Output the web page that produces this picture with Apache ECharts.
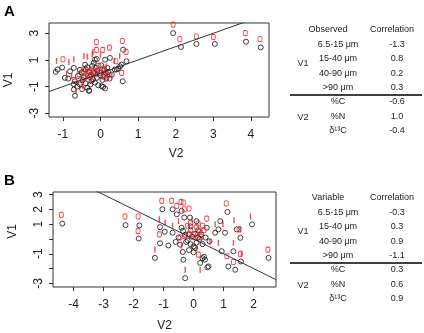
<!DOCTYPE html>
<html>
<head>
<meta charset="utf-8">
<script src="https://cdn.jsdelivr.net/npm/echarts@6/dist/echarts.min.js"></script>
<style>
html, body { margin: 0; padding: 0; background: #fff; }
#main { width: 424px; height: 333px; }
</style>
</head>
<body>
<div id="main"></div>
<script>
// panel A : observed
var blackA = [[-1.19,0.1],[-1.14,0.28],[-1.02,0.43],[-0.95,-0.34],[-0.86,-0.4],[-0.81,0.15],[-0.71,0.4],
  [-0.68,-0.6],[-0.71,-0.82],[-0.71,-1.22],[-0.68,-1.69],[-0.55,-0.84],[-0.49,-1.19],[-0.5,0.07],[-0.47,-0.51],
  [-0.41,0.65],[-0.39,0.28],[-0.35,-1.09],[-0.31,-1.31],[-0.28,-0.27],[-0.27,-0.84],[-0.24,-0.6],[-0.19,0.03],
  [-0.18,0.78],[-0.15,1.02],[-0.1,1.07],[-0.12,0.4],[-0.1,-0.34],[-0.06,-0.9],[-0.02,0.03],[0.0,-0.15],
  [0.03,-0.97],[0.07,-1.02],[0.12,-1.14],[0.14,0.03],[0.16,-0.34],[0.18,0.4],[0.12,1.02],[0.24,-0.4],
  [0.25,1.15],[0.38,0.28],[0.43,0.28],[0.47,0.35],[0.52,0.52],[0.56,0.65],[0.59,-0.6],[0.6,1.77],[0.69,0.9],
  [-0.6,-0.2],[-0.45,-0.3],[-0.3,0.1],[-0.25,-0.1],[-0.2,-0.45],[-0.15,-0.7],[-0.08,0.2],[0.05,-0.5],
  [0.1,0.25],[0.2,0.1],[-0.4,-0.75],[-0.55,0.25],[-0.35,0.45],[0.3,-0.1],[0.08,-0.25],[-0.22,0.55],
  [0.02,0.6],[-0.62,-1.0],[-0.3,-1.3],
  [1.93,3.01],[2.14,1.97],[2.55,2.2],[3.04,2.2],[3.87,2.37],[4.26,1.94]];
var redA = [[-1.0,1.05],[-0.57,-0.07],[-0.53,-0.69],[-0.44,0.3],[-0.11,2.34],[-0.11,1.75],[0.06,1.75],
  [0.24,1.92],[0.58,2.42],[0.68,1.6],[0.41,0.9],[0.56,0.03],
  [-0.42,-0.35],[-0.33,0.05],[-0.28,0.15],[-0.25,-0.15],[-0.2,0.3],[-0.15,0.1],[-0.1,-0.05],[-0.35,-0.2],
  [0.05,0.35],[0.1,0.15],[0.2,-0.15],[-0.45,0.15],[-0.7,-0.5],[-0.05,0.55],[0.15,-0.4],
  [1.93,3.65],[2.11,2.57],[2.55,2.76],[3.0,2.72],[3.85,3.01],[4.24,2.57]];
var barsA = [[-1.17,0.93],[-0.84,0.85],[-0.71,1.05],[-0.44,1.3],[-0.35,1.25],[-0.22,1.42],[-0.2,1.6],
  [0.0,1.4],[0.37,0.95],[0.51,1.3],[-0.47,-1.0],[-0.77,-0.2],[0.05,-0.25],[0.3,-0.2],[-0.25,-0.55],
  [0.15,0.5],[-0.65,-1.3],[-0.9,-0.05]];
var fitA = { slope: 1.0, intercept: 0.0 };

// panel B : variable
var blackB = [[-4.38,1.04],[-2.27,0.94],[-1.81,0.92],[-1.83,0.03],[-1.29,-1.28],[-1.12,0.8],[-1.12,-0.29],
  [-1.04,2.01],[-0.96,0.49],[-0.84,-0.44],[-0.7,0.42],[-0.7,2.01],[-0.56,1.67],[-0.45,-0.38],[-0.4,1.9],
  [-0.4,0.76],[-0.36,-0.88],[-0.34,-1.4],[-0.28,-2.65],[-0.31,1.45],[-0.28,0.28],[-0.2,-0.1],[-0.15,0.3],
  [-0.1,0.85],[-0.12,1.45],[0.0,-0.5],[0.05,-0.6],[0.1,1.2],[0.15,0.1],[0.2,0.0],[0.22,-1.62],[0.3,-1.3],
  [0.35,-1.2],[0.46,-1.92],[0.44,0.76],[0.38,-1.4],[0.5,-1.86],[0.53,-0.15],[0.72,0.42],[0.83,0.65],
  [0.89,1.21],[0.94,-0.83],[1.05,0.42],[1.13,1.83],[1.16,-1.86],[1.33,-0.83],[1.39,-2.08],[1.44,0.65],
  [1.56,0.08],[1.58,-1.52],[1.95,0.99],[2.5,-1.28],
  [-0.05,0.15],[0.05,0.35],[-0.25,-0.2],[0.1,-0.25],[0.25,0.3],[-0.5,0.1],[0.0,-0.9],[-0.15,-0.75],
  [0.3,-0.35],[-0.35,0.55],[0.15,0.6],[-0.6,-0.2],[0.4,0.1],[-0.1,-0.35]];
var redB = [[-4.41,1.63],[-2.29,1.52],[-1.85,1.52],[-1.85,0.53],[-1.06,2.58],[-0.73,2.58],[-0.56,2.24],
  [-0.42,2.51],[-0.31,2.01],[-0.15,2.06],[-1.14,0.31],[1.09,2.4],[2.48,-0.72],[0.44,1.38],[1.33,-1.56],
  [1.56,-1.01],[1.11,-1.17],[1.52,0.65],[0.16,-1.06],[-0.34,2.47],
  [-0.2,0.9],[-0.1,0.6],[0.0,0.3],[0.1,0.8],[0.2,0.5],[0.3,0.9],[-0.3,0.2],[-0.45,0.1],[0.05,0.1],
  [-0.15,0.35],[0.25,0.15],[0.35,0.6],[-0.1,1.1],[0.15,1.05]];
var barsB = [[-1.29,-0.72],[-1.14,1.33],[-0.7,0.9],[-0.28,-2.08],[0.22,-2.08],[0.72,0.99],[0.83,-0.26],
  [1.33,-0.26],[1.35,1.26],[0.98,0.99],[1.56,0.65],[1.9,1.52],[-0.95,1.1],[-0.5,1.2],[-0.05,1.3],
  [0.55,-0.2],[-0.4,-0.45],[0.1,-0.6],[1.6,-1.0]];
var fitB = { slope: -1.0, intercept: 0.0 };

// tables
var varNames = ['6.5-15 μm', '15-40 μm', '40-90 μm', '>90 μm', '%C', '%N', 'δ¹³C'];
var corrA = ['-1.3', '0.8', '0.2', '0.3', '-0.6', '1.0', '-0.4'];
var corrB = ['-0.3', '0.3', '0.9', '-1.1', '0.3', '0.6', '0.9'];

var xTicksA = [-1, 0, 1, 2, 3, 4];
var yTicksA = [-3, -1, 1, 3];
var xTicksB = [-4, -3, -2, -1, 0, 1, 2];
var yTicksB = [-3, -2, -1, 0, 1, 2, 3];
var yLabelsB = [-3, -1, 1, 2, 3];

var myChart = echarts.init(document.getElementById('main'));

var FONT = 'Liberation Sans';
var RED = '#f21d2a';

function fitLine(fit, x0, x1) {
    return [[x0, fit.slope * x0 + fit.intercept], [x1, fit.slope * x1 + fit.intercept]];
}

function xAx(idx, min, max, ticks, shift, gap) {
    return {
        type: 'value', gridIndex: idx, min: min, max: max,
        name: 'V2', nameLocation: 'middle', nameGap: gap,
        nameTextStyle: { fontFamily: FONT, fontSize: 12, color: '#222', padding: [0, 0, 0, shift] },
        axisLine: { show: false, onZero: false },
        axisTick: { show: true, length: 4, lineStyle: { color: '#333' }, customValues: ticks },
        axisLabel: { fontFamily: FONT, fontSize: 12, color: '#222', margin: 12, customValues: ticks },
        splitLine: { show: false }
    };
}
function yAx(idx, min, max, ticks, labels, pad) {
    return {
        type: 'value', gridIndex: idx, min: min, max: max,
        name: 'V1', nameLocation: 'middle', nameGap: 34,
        nameTextStyle: { fontFamily: FONT, fontSize: 12, color: '#222', padding: pad },
        axisLine: { show: false, onZero: false },
        axisTick: { show: true, length: 4, lineStyle: { color: '#333' }, customValues: ticks },
        axisLabel: { fontFamily: FONT, fontSize: 12, color: '#222', margin: 8, rotate: 90, customValues: labels },
        splitLine: { show: false }
    };
}

function pts(idx, data, kind) {
    var s = { type: 'scatter', xAxisIndex: idx, yAxisIndex: idx, data: data, silent: true };
    if (kind === 'black') {
        s.symbol = 'circle'; s.symbolSize = 5;
        s.itemStyle = { color: 'rgba(0,0,0,0)', borderColor: '#111', borderWidth: 1 };
    } else if (kind === 'red') {
        s.symbol = 'roundRect'; s.symbolSize = [4, 5];
        s.itemStyle = { color: 'rgba(0,0,0,0)', borderColor: RED, borderWidth: 1 };
    } else {
        s.symbol = 'rect'; s.symbolSize = [1.4, 6];
        s.itemStyle = { color: RED };
    }
    return s;
}

// table as text
var graphic = [
    { type: 'text', left: 4, top: 4, style: { text: 'A', font: 'bold 15px ' + FONT, fill: '#000' } },
    { type: 'text', left: 4, top: 173, style: { text: 'B', font: 'bold 15px ' + FONT, fill: '#000' } }
];
function addTable(y0, head, vals) {
    var rowY = [44.3, 59, 73.3, 88, 102, 116.7, 131];
    function t(x, y, s) {
        graphic.push({ type: 'text', x: x, y: y + y0,
            style: { text: s, font: '9px ' + FONT, fill: '#222', align: 'center', verticalAlign: 'middle' } });
    }
    t(328, 30, head);
    t(392, 30, 'Correlation');
    for (var i = 0; i < varNames.length; i++) {
        t(338, rowY[i], varNames[i]);
        t(397, rowY[i], vals[i]);
    }
    t(303, 63.5, 'V1');
    t(303, 117.5, 'V2');
    graphic.push({ type: 'line', shape: { x1: 290, y1: 95 + y0, x2: 422, y2: 95 + y0 },
        style: { stroke: '#000', lineWidth: 1.5 } });
}
addTable(0, 'Observed', corrA);
addTable(168, 'Variable', corrB);

var option = {
    backgroundColor: '#fff',
    animation: false,
    grid: [
        { left: 49, top: 23, width: 220, height: 94, show: true, borderColor: '#333', borderWidth: 1, outerBoundsMode: 'none' },
        { left: 53, top: 192, width: 223, height: 95, show: true, borderColor: '#333', borderWidth: 1, outerBoundsMode: 'none' }
    ],
    xAxis: [
        xAx(0, -1.37, 4.48, xTicksA, 34, 31),
        xAx(1, -4.69, 2.75, xTicksB, 0, 33)
    ],
    yAxis: [
        yAx(0, -3.28, 3.77, yTicksA, yTicksA, [0, 20, 0, 0]),
        yAx(1, -3.25, 3.18, yTicksB, yLabelsB, [0, 0, 0, 16])
    ],
    series: [
        pts(0, blackA, 'black'),
        pts(0, redA, 'red'),
        pts(0, barsA, 'bar'),
        { type: 'line', xAxisIndex: 0, yAxisIndex: 0, data: fitLine(fitA, -1.37, 4.48), showSymbol: false,
          silent: true, clip: true, lineStyle: { color: '#333', width: 1 } },
        pts(1, blackB, 'black'),
        pts(1, redB, 'red'),
        pts(1, barsB, 'bar'),
        { type: 'line', xAxisIndex: 1, yAxisIndex: 1, data: fitLine(fitB, -4.69, 2.75), showSymbol: false,
          silent: true, clip: true, lineStyle: { color: '#333', width: 1 } }
    ],
    graphic: graphic
};
myChart.setOption(option);
window.onresize = function () {
    myChart.resize();
};
</script>
</body>
</html>
